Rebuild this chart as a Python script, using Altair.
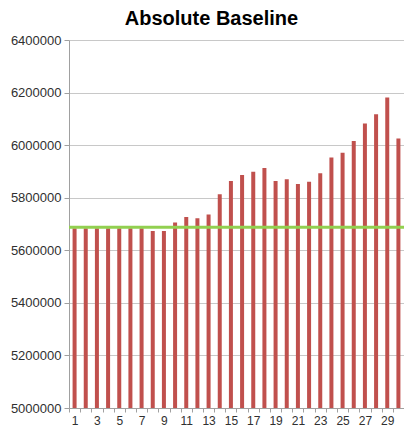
import altair as alt
import pandas as pd

days = list(range(1, 31))
values = [5684000, 5684000, 5684000, 5684000, 5684000, 5684000, 5684000,
          5673000, 5673000, 5706000, 5727000, 5722000, 5736000, 5813000,
          5864000, 5886000, 5899000, 5913000, 5864000, 5870000, 5852000,
          5861000, 5893000, 5953000, 5971000, 6016000, 6082000, 6118000,
          6181000, 6025000]
baseline = [5688000]
axis_floor = 5000000

df = pd.DataFrame({"day": days, "value": values, "floor": [axis_floor] * len(days)})
bdf = pd.DataFrame({"baseline": baseline})

FONT = "Liberation Sans"

bars = alt.Chart(df).mark_bar(color="#C0504D", size=4, clip=True).encode(
    x=alt.X("day:O", title=None,
            axis=alt.Axis(labelAngle=0, labelExpr="datum.value % 2 == 1 ? datum.label : ''",
                          tickBand="extent", tickSize=4, tickColor="#A0A0A0",
                          domainColor="#A0A0A0", labelFont=FONT, labelFontSize=12,
                          labelColor="#303030", labelPadding=3, grid=False)),
    y=alt.Y("value:Q", title=None,
            scale=alt.Scale(domain=[5000000, 6400000], nice=False, zero=False),
            axis=alt.Axis(values=list(range(5000000, 6400001, 200000)), format="d",
                          tickSize=5, tickColor="#A0A0A0", domainColor="#A0A0A0",
                          gridColor="#C8C8C8", labelFont=FONT, labelFontSize=13,
                          labelColor="#303030", labelPadding=3)),
    y2="floor:Q",
)

rule = alt.Chart(bdf).mark_rule(color="#92D050", strokeWidth=3).encode(
    y=alt.Y("baseline:Q")
)

chart = (bars + rule).properties(
    width=335, height=368,
    title=alt.TitleParams("Absolute Baseline", font=FONT, fontSize=20, fontWeight="bold",
                          color="#000000", offset=5, dx=-25),
    autosize=alt.AutoSizeParams(type="none"),
    padding={"left": 69, "top": 40, "right": 0, "bottom": 23},
).configure_view(stroke=None).configure_scale(bandPaddingInner=0, bandPaddingOuter=0)

chart.save("out.html", embed_options={"renderer": "svg", "actions": False})
